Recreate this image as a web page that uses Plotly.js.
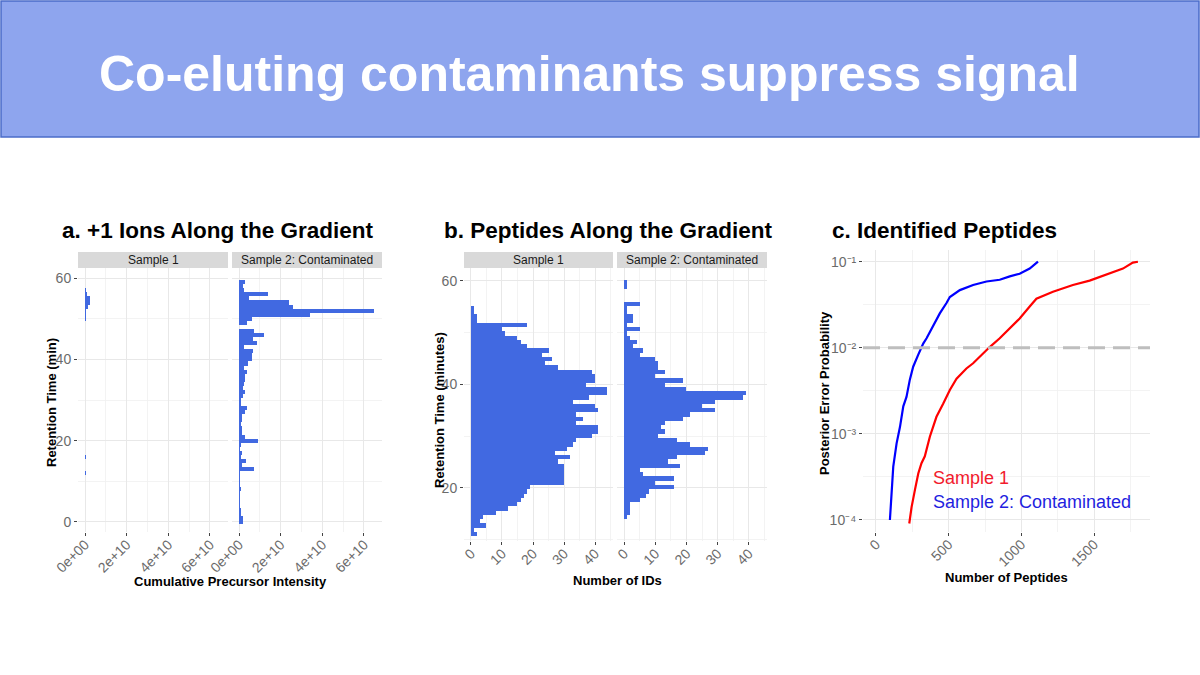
<!DOCTYPE html>
<html>
<head>
<meta charset="utf-8">
<script src="https://cdn.plot.ly/plotly-3.0.1.min.js"></script>
<style>
  html, body { margin: 0; padding: 0; background: #fff; }
  #chart { width: 1200px; height: 675px; }
</style>
</head>
<body>
<div id="chart"></div>
<script>
// ── Data ──────────────────────────────────────────────────────────────────────
// a. +1 ions: cumulative precursor intensity per 1-min retention time bin
const RT_A = [0,1,2,3,4,5,6,7,8,9,10,11,12,13,14,15,16,17,18,19,20,21,22,23,24,25,26,27,28,29,
              30,31,32,33,34,35,36,37,38,39,40,41,42,43,44,45,46,47,48,49,50,51,52,53,54,55,56,57,58,59];
const ION_S1 = [0.02e10,0.02e10,0.01e10,0.01e10,0.01e10,0.01e10,0.01e10,0.01e10,0.01e10,0.01e10,
                0.01e10,0.02e10,0.05e10,0.02e10,0.01e10,0.02e10,0.05e10,0.02e10,0.01e10,0.01e10,
                0.01e10,0.01e10,0.01e10,0.01e10,0.01e10,0.01e10,0.01e10,0.01e10,0.01e10,0.01e10,
                0.01e10,0.01e10,0.01e10,0.01e10,0.01e10,0.01e10,0.01e10,0.01e10,0.01e10,0.01e10,
                0.01e10,0.01e10,0.01e10,0.01e10,0.01e10,0.01e10,0.01e10,0.01e10,0.01e10,0.02e10,
                0.03e10,0.05e10,0.06e10,0.12e10,0.22e10,0.25e10,0.08e10,0.03e10,0.02e10,0.02e10];
const ION_S2 = [0.18e10,0.18e10,0.1e10,0.1e10,0.03e10,0.03e10,0.03e10,0.03e10,0.1e10,0.03e10,
                0.03e10,0.03e10,0.06e10,0.7e10,0.15e10,0.33e10,0.1e10,0.15e10,0.06e10,0.1e10,
                0.9e10,0.27e10,0.12e10,0.12e10,0.1e10,0.12e10,0.12e10,0.27e10,0.38e10,0.1e10,
                0.1e10,0.18e10,0.27e10,0.18e10,0.22e10,0.27e10,0.3e10,0.38e10,0.22e10,0.45e10,
                0.6e10,0.6e10,0.65e10,0.22e10,0.85e10,0.65e10,1.2e10,0.7e10,0,0.4e10,
                0.6e10,3.4e10,6.5e10,2.6e10,2.4e10,0.5e10,1.4e10,0.22e10,0.18e10,0.27e10];

// b. peptide IDs per retention time bin (bin centres, minutes)
const RT_B = [11.12,11.94,12.77,13.59,14.41,15.24,16.06,16.88,17.70,18.53,
              19.35,20.17,21.00,21.82,22.64,23.47,24.29,25.11,25.93,26.76,
              27.58,28.40,29.23,30.05,30.87,31.70,32.52,33.34,34.16,34.99,
              35.81,36.63,37.46,38.28,39.10,39.93,40.75,41.57,42.39,43.22,
              44.04,44.86,45.69,46.51,47.33,48.16,48.98,49.80,50.62,51.45,
              52.27,53.09,53.92,54.74,55.56,56.39,57.21,58.03,58.85,59.68];
const IDS_S1 = [2,1,5,3,4,8,12,15,16,17, 18,19,30,30,30,30,30,28,32,27,
                31,33,34,39,41,41,34,36,34,41, 40,33,38,44,44,37,40,40,39,28,
                24,26,23,25,18,16,15,11,10,18, 2,2,1,1,0,0,0,0,0,0];
const IDS_S2 = [0,0,0,0,1,2,2,2,5,7, 8,16,10,16,6,5,18,14,17,26,
                27,21,17,11,13,12,13,19,21,29, 25,29,38,39,20,13,19,10,13,11,
                11,10,5,6,3,4,2,1,5,1, 3,3,1,1,5,0,0,0,1,1];

// c. identified peptides vs posterior error probability
const PEP_N_S1 = [229,245,268,291,313,336,371,416,462,508,554,622,668,737,782,851,920,988,1057,1103,1217,1354,1469,1583,1698,1766,1801];
const PEP_S1   = [9.1e-5,1.41e-4,2.24e-4,3.47e-4,4.57e-4,5.5e-4,9.33e-4,1.58e-3,2.24e-3,3.24e-3,4.37e-3,5.75e-3,6.61e-3,8.71e-3,
                  1.02e-2,1.29e-2,1.7e-2,2.19e-2,3.02e-2,3.72e-2,4.47e-2,5.37e-2,6.03e-2,7.08e-2,8.32e-2,9.77e-2,1e-1];
const PEP_N_S2 = [96,108,119,142,165,188,210,233,256,291,325,348,394,439,485,508,577,668,760,851,920,988,1057,1114];
const PEP_S2   = [1e-4,2.45e-4,4.17e-4,7.76e-4,1.2e-3,2.09e-3,2.69e-3,4.27e-3,6.03e-3,8.32e-3,1.12e-2,1.29e-2,
                  1.78e-2,2.51e-2,3.31e-2,3.89e-2,4.68e-2,5.37e-2,5.89e-2,6.17e-2,6.76e-2,7.24e-2,8.32e-2,1e-1];
const PEP_CUTOFF = 0.01;

const FACETS = ['Sample 1', 'Sample 2: Contaminated'];
const INT_TICKS = [0, 2e10, 4e10, 6e10];
const INT_LABELS = ['0e+00', '2e+10', '4e+10', '6e+10'];
const PEP_TICKS = [1e-4, 1e-3, 1e-2, 1e-1];
const PEP_LABELS = ['10⁻⁴', '10⁻³', '10⁻²', '10⁻¹'];

// ── Styling ───────────────────────────────────────────────────────────────────
const FONT = 'Liberation Sans, Arial, sans-serif';
const BAR = '#4169E1';
const GRID = '#E8E8E8';
const TICKFONT = { family: FONT, size: 14, color: '#6b6b6b' };

const axBase = (extra) => Object.assign({
  showgrid: true, gridcolor: GRID, gridwidth: 1,
  zeroline: false, showline: false,
  ticks: 'outside', ticklen: 3, tickcolor: '#444', tickwidth: 1,
  tickfont: TICKFONT,
  fixedrange: true,
}, extra);

const minor = (vals) => ({ tickmode: 'array', tickvals: vals, showgrid: true, gridcolor: '#F0F0F0', gridwidth: 0.8, ticks: '' });

const hbar = (y, x, xa, ya, w) => ({
  type: 'bar', orientation: 'h', y, x, xaxis: xa, yaxis: ya, width: w,
  marker: { color: BAR, line: { width: 0 } }, hoverinfo: 'skip',
});

const traces = [
  hbar(RT_A, ION_S1, 'x', 'y', 1.01),
  hbar(RT_A, ION_S2, 'x2', 'y', 1.01),
  hbar(RT_B, IDS_S1, 'x3', 'y2', 0.84),
  hbar(RT_B, IDS_S2, 'x4', 'y2', 0.84),
  { type: 'scatter', mode: 'lines', x: PEP_N_S2, y: PEP_S2, xaxis: 'x5', yaxis: 'y3',
    line: { color: '#0000FF', width: 2.2 }, hoverinfo: 'skip' },
  { type: 'scatter', mode: 'lines', x: PEP_N_S1, y: PEP_S1, xaxis: 'x5', yaxis: 'y3',
    line: { color: '#FF0000', width: 2.2 }, hoverinfo: 'skip' },
];

// paper helpers (margins are zero, so paper == pixels)
const px = (v) => v / 1200;
const py = (v) => 1 - v / 675;

const xTicks = { tickangle: -45, ticklabelstandoff: -5, tickfont: { family: FONT, size: 14, color: '#6b6b6b' } };

const intAxis = (dom) => axBase(Object.assign({
  domain: dom, anchor: 'y', range: [-0.336e10, 6.865e10],
  tickmode: 'array', tickvals: INT_TICKS, ticktext: INT_LABELS,
  minor: minor([1e10, 3e10, 5e10]),
}, xTicks));
const idsAxis = (dom) => axBase(Object.assign({
  domain: dom, anchor: 'y2', range: [-2.25, 45.8],
  tickmode: 'array', tickvals: [0, 10, 20, 30, 40],
  minor: minor([5, 15, 25, 35, 45]),
}, xTicks));

const layout = {
  width: 1200, height: 675,
  margin: { l: 0, r: 0, t: 0, b: 0 },
  paper_bgcolor: '#fff', plot_bgcolor: '#fff',
  showlegend: false, bargap: 0, barmode: 'overlay',
  font: { family: FONT },
  xaxis:  intAxis([px(78), px(228)]),
  xaxis2: intAxis([px(232), px(382)]),
  xaxis3: idsAxis([px(464), px(613)]),
  xaxis4: idsAxis([px(617), px(767)]),
  xaxis5: axBase(Object.assign({
    domain: [px(863), px(1150)], anchor: 'y3', range: [-89, 1884],
    tickmode: 'array', tickvals: [0, 500, 1000, 1500],
    minor: minor([250, 750, 1250, 1750]),
  }, xTicks)),
  yaxis: axBase({
    domain: [py(532), py(268)], anchor: 'x', range: [-2.5, 62.5],
    tickmode: 'array', tickvals: [0, 20, 40, 60],
    minor: minor([10, 30, 50]),
  }),
  yaxis2: axBase({
    domain: [py(541), py(268)], anchor: 'x3', range: [9.77, 62.45],
    tickmode: 'array', tickvals: [20, 40, 60],
    minor: minor([10, 30, 50]),
  }),
  yaxis3: axBase({
    domain: [py(531.7), py(250)], anchor: 'x5', type: 'log', range: [-4.136, -0.864],
    tickmode: 'array', tickvals: PEP_TICKS, ticktext: PEP_LABELS,
    minor: minor([3.16e-4, 3.16e-3, 3.16e-2]),
  }),
  shapes: [
    // title banner
    { type: 'rect', xref: 'paper', yref: 'paper', x0: px(1), x1: px(1199), y0: py(137), y1: py(1),
      fillcolor: '#8EA5EE', line: { color: '#4B6CC9', width: 1.5 }, layer: 'below' },
    // facet strips
    ...[[78, 228], [232, 382], [464, 613], [617, 767]].map(([a, b]) => ({
      type: 'rect', xref: 'paper', yref: 'paper', x0: px(a), x1: px(b), y0: py(268), y1: py(252),
      fillcolor: '#D9D9D9', line: { width: 0 },
    })),
    // PEP cutoff
    { type: 'line', xref: 'x5 domain', yref: 'y3', x0: 0, x1: 1, y0: PEP_CUTOFF, y1: PEP_CUTOFF,
      line: { color: '#BEBEBE', width: 3, dash: '17px,8px' } },
  ],
  annotations: [],
};

const ann = (text, x, y, size, opts) => Object.assign({
  text, x: px(x), y: py(y), xref: 'paper', yref: 'paper', showarrow: false,
  xanchor: 'center', yanchor: 'middle', font: { family: FONT, size, color: '#000' },
}, opts || {});

const stripFont = { family: FONT, size: 12, color: '#1a1a1a' };

layout.annotations.push(
  ann('<b>Co-eluting contaminants suppress signal</b>', 589, 74, 50, { font: { family: FONT, size: 50, color: '#fff' } }),
  ann('<b>a. +1 Ions Along the Gradient</b>', 218, 230, 22.5),
  ann('<b>b. Peptides Along the Gradient</b>', 608, 230, 22.5),
  ann('<b>c. Identified Peptides</b>', 944, 230, 22.5),
  ann(FACETS[0], 153, 260, 12, { font: stripFont }),
  ann(FACETS[1], 307, 260, 12, { font: stripFont }),
  ann(FACETS[0], 538, 260, 12, { font: stripFont }),
  ann(FACETS[1], 692, 260, 12, { font: stripFont }),
  ann('<b>Cumulative Precursor Intensity</b>', 230, 581, 13),
  ann('<b>Number of IDs</b>', 617, 580, 13),
  ann('<b>Number of Peptides</b>', 1006, 577, 13),
  ann('<b>Retention Time (min)</b>', 51, 403, 13, { textangle: -90 }),
  ann('<b>Retention Time (minutes)</b>', 439, 410, 13, { textangle: -90 }),
  ann('<b>Posterior Error Probability</b>', 824, 393, 13, { textangle: -90 }),
  ann(FACETS[0], 931, 478, 18, { xanchor: 'left', font: { family: FONT, size: 18, color: '#F21B2D' } }),
  ann(FACETS[1], 931, 502, 18, { xanchor: 'left', font: { family: FONT, size: 18, color: '#1F1FE0' } }),
);

Plotly.newPlot('chart', traces, layout, { staticPlot: true, displayModeBar: false });
</script>
</body>
</html>
